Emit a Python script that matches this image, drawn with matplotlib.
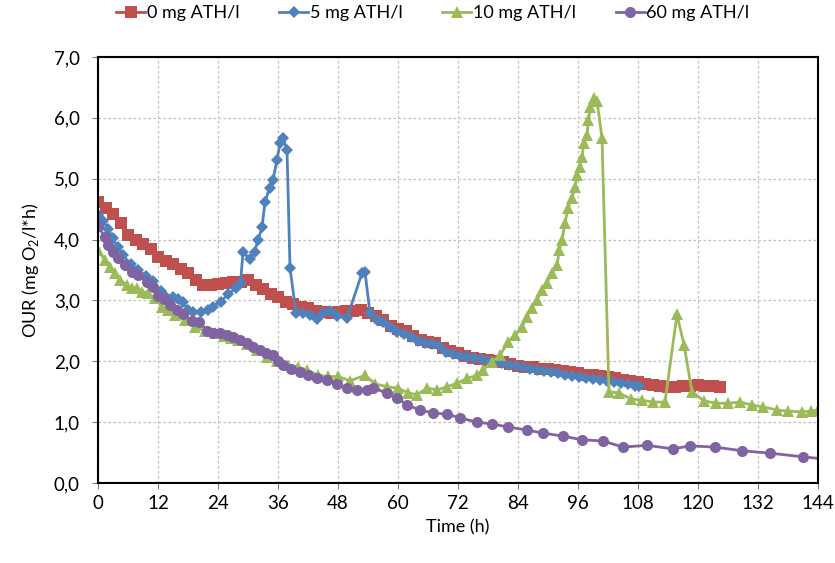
import matplotlib.pyplot as plt
from matplotlib.ticker import FuncFormatter, MultipleLocator

plt.rcParams['font.family'] = ['Lato', 'DejaVu Sans']
plt.rcParams['mathtext.fontset'] = 'custom'
plt.rcParams['mathtext.rm'] = 'Lato'

# OUR time courses for each ATH dose (h, mg O2/l*h)
t_0 = [0, 1.5, 3, 4.5, 6, 7.5, 9, 10.5, 12, 13.5, 15, 16.5, 18, 19.5, 21, 22.5,
       24, 25.5, 27, 28.5, 30, 31.5, 33, 34.5, 36, 37.5, 39, 40.5, 42, 43.5, 45,
       46.5, 48, 49.5, 51, 52.5, 54, 55.5, 57, 58.5, 60, 61.5, 63, 64.5, 66,
       67.5, 69, 70.5, 72, 73.5, 75, 76.5, 78, 79.5, 81, 82.5, 84, 85.5, 87,
       88.5, 90, 91.5, 93, 94.5, 96, 97.5, 99, 100.5, 102, 103.5, 105, 106.5,
       108, 109.5, 111, 112.5, 114, 115.5, 117, 118.5, 120, 121.5, 123, 124.5]
our_0 = [4.62, 4.52, 4.42, 4.27, 4.08, 3.99, 3.93, 3.85, 3.72, 3.65, 3.60, 3.52,
         3.45, 3.33, 3.26, 3.25, 3.27, 3.28, 3.30, 3.31, 3.34, 3.26, 3.19, 3.11,
         3.05, 2.98, 2.94, 2.90, 2.87, 2.83, 2.81, 2.80, 2.81, 2.82, 2.83, 2.84,
         2.80, 2.74, 2.68, 2.58, 2.53, 2.49, 2.42, 2.35, 2.32, 2.30, 2.22, 2.17,
         2.13, 2.09, 2.06, 2.04, 2.02, 2.01, 1.98, 1.95, 1.93, 1.91, 1.90, 1.88,
         1.87, 1.86, 1.84, 1.82, 1.80, 1.78, 1.77, 1.76, 1.74, 1.72, 1.70, 1.68,
         1.66, 1.63, 1.61, 1.59, 1.58, 1.57, 1.59, 1.60, 1.61, 1.60, 1.59, 1.58]

t_5 = [0, 1, 2, 3, 4, 5, 6.5, 8, 9.5, 11, 12.5, 13.5, 15, 16, 17, 18, 19, 20.5,
       22, 23, 24.5, 26, 27.5, 28.5, 29, 30.3, 31.3, 32, 32.8, 33.4, 34.3, 35,
       35.8, 36.4, 37, 37.8, 38.4, 39.6, 41, 42.4, 43.8, 45, 46.4, 47.8, 49.8,
       52.8, 53.4, 54.4, 55.8, 57, 58.4, 59.8, 61.2, 62.6, 64, 65.4, 66.8, 68.2,
       69.6, 71, 72.4, 73.8, 75.2, 76.6, 78, 79.4, 80.8, 82.2, 83.6, 85, 86.4,
       87.8, 89.2, 90.6, 92, 93.4, 94.8, 96.2, 97.6, 99, 100.4, 101.8, 103.2,
       104.6, 106, 107.4, 108.2]
our_5 = [4.40, 4.30, 4.18, 4.02, 3.87, 3.74, 3.60, 3.50, 3.40, 3.32, 3.15, 3.06,
         3.05, 3.02, 2.97, 2.85, 2.81, 2.81, 2.85, 2.90, 2.98, 3.10, 3.20, 3.29,
         3.80, 3.68, 3.80, 3.99, 4.20, 4.62, 4.85, 4.98, 5.31, 5.58, 5.67, 5.47,
         3.53, 2.80, 2.79, 2.76, 2.70, 2.79, 2.82, 2.74, 2.71, 3.45, 3.47, 2.79,
         2.68, 2.65, 2.56, 2.48, 2.45, 2.40, 2.33, 2.30, 2.28, 2.25, 2.15, 2.12,
         2.09, 2.07, 2.06, 2.03, 2.01, 1.99, 1.97, 1.94, 1.92, 1.90, 1.88, 1.86,
         1.84, 1.82, 1.80, 1.78, 1.76, 1.74, 1.72, 1.71, 1.69, 1.67, 1.66, 1.64,
         1.62, 1.60, 1.59]

t_10 = [0, 1.4, 2.4, 3.4, 4.4, 5.8, 6.8, 7.8, 8.8, 10, 11.4, 12.8, 14, 15.4,
        17.4, 19.4, 21.4, 23.4, 25.2, 26.6, 28, 29.8, 31.8, 33.8, 35.8, 38, 40,
        41.8, 44, 46, 48, 50.4, 53.4, 55.4, 57.8, 60, 62, 63.8, 65.8, 67.8, 69.8,
        71.8, 73.8, 75.8, 77, 78.8, 80.4, 82, 83.4, 84.8, 85.8, 86.8, 87.8, 88.8,
        89.8, 90.8, 91.8, 92.3, 92.8, 93.4, 94, 94.8, 95.4, 95.8, 96.4, 96.8,
        97.2, 97.8, 98.1, 98.5, 99.2, 99.8, 100.8, 102.2, 104.2, 106.6, 108.8,
        111, 113.4, 115.8, 117.2, 118.8, 121.2, 123.6, 126, 128.4, 130.8, 133,
        135.8, 138, 140.8, 142.6, 144]
our_10 = [3.83, 3.66, 3.55, 3.45, 3.34, 3.25, 3.20, 3.20, 3.14, 3.12, 3.04, 2.89,
          2.84, 2.76, 2.68, 2.56, 2.50, 2.46, 2.42, 2.38, 2.35, 2.28, 2.18, 2.07,
          2.00, 1.94, 1.90, 1.86, 1.77, 1.75, 1.75, 1.68, 1.77, 1.63, 1.58, 1.56,
          1.48, 1.45, 1.56, 1.53, 1.58, 1.64, 1.72, 1.77, 1.86, 1.99, 2.10, 2.32,
          2.43, 2.56, 2.73, 2.88, 3.01, 3.17, 3.29, 3.45, 3.58, 3.83, 3.99, 4.27,
          4.52, 4.68, 4.86, 5.06, 5.19, 5.36, 5.59, 5.72, 5.96, 6.18, 6.32, 6.28,
          5.67, 1.50, 1.48, 1.38, 1.36, 1.33, 1.33, 2.77, 2.27, 1.50, 1.35, 1.31,
          1.31, 1.33, 1.28, 1.25, 1.20, 1.18, 1.17, 1.18, 1.20]

t_60 = [0, 1.4, 2, 3, 4, 5.4, 6.8, 8, 9.8, 11, 12, 13.2, 14.4, 15.8, 17, 18.8,
        20.2, 21.8, 23, 24.4, 25.8, 27, 28.4, 29.8, 31, 32.4, 33.6, 35, 36, 37,
        38.6, 40.4, 42, 43.8, 45.8, 47.8, 49.8, 51.8, 53.8, 55, 57.8, 59.8, 61.8,
        64.4, 67, 69.8, 72.4, 75.8, 78.8, 82, 85.8, 89, 93, 96.8, 101, 105, 109.8,
        115, 118.4, 123.4, 128.8, 134.4, 141, 147]
our_60 = [4.22, 4.04, 3.91, 3.80, 3.70, 3.58, 3.47, 3.42, 3.30, 3.22, 3.08, 3.02,
          2.92, 2.85, 2.77, 2.67, 2.64, 2.50, 2.47, 2.46, 2.43, 2.40, 2.35, 2.30,
          2.24, 2.19, 2.14, 2.10, 2.00, 1.94, 1.88, 1.82, 1.77, 1.73, 1.69, 1.63,
          1.56, 1.53, 1.53, 1.56, 1.48, 1.40, 1.28, 1.20, 1.15, 1.13, 1.07, 1.00,
          0.97, 0.92, 0.87, 0.82, 0.77, 0.71, 0.69, 0.59, 0.62, 0.56, 0.61, 0.59,
          0.53, 0.49, 0.43, 0.38]

series = [
    (t_0, our_0, '0 mg ATH/l', '#C0504D', 's', 8.5),
    (t_5, our_5, '5 mg ATH/l', '#4F81BD', 'D', 6.5),
    (t_10, our_10, '10 mg ATH/l', '#9BBB59', '^', 8.5),
    (t_60, our_60, '60 mg ATH/l', '#8064A2', 'o', 8),
]

fig = plt.figure(figsize=(8.35, 5.63), dpi=100)
ax = fig.add_axes([0.1174, 0.1421, 0.8622, 0.7567])

for t, v, name, col, mk, ms in series:
    ax.plot(t, v, color=col, marker=mk, markersize=ms, linewidth=2,
            markeredgewidth=0, label=name)

ax.set_xlim(0, 144)
ax.set_ylim(0, 7)
ax.xaxis.set_major_locator(MultipleLocator(12))
ax.yaxis.set_major_locator(MultipleLocator(1))
ax.yaxis.set_major_formatter(FuncFormatter(lambda y, _: f'{y:.1f}'.replace('.', ',')))
ax.grid(True, color='#BFBFBF', linestyle=(0, (2, 2)), linewidth=0.9)
ax.set_axisbelow(True)
for sp in ax.spines.values():
    sp.set_color('black')
    sp.set_linewidth(1.5)
ax.tick_params(labelsize=13.5, length=4, color='#808080')
ax.tick_params(axis='y', pad=9)
ax.tick_params(axis='x', pad=5)

ax.set_xlabel('Time (h)', fontsize=13, labelpad=5)
ax.set_ylabel(r'OUR (mg O$_2$/l*h)', fontsize=13, labelpad=9)

ax.legend(loc='lower center', bbox_to_anchor=(0.465, 1.0), ncol=4, frameon=False,
          fontsize=13, handlelength=1.6, handletextpad=0.1, columnspacing=2.2,
          borderaxespad=1.6)

fig.savefig('out.png', dpi=100)
